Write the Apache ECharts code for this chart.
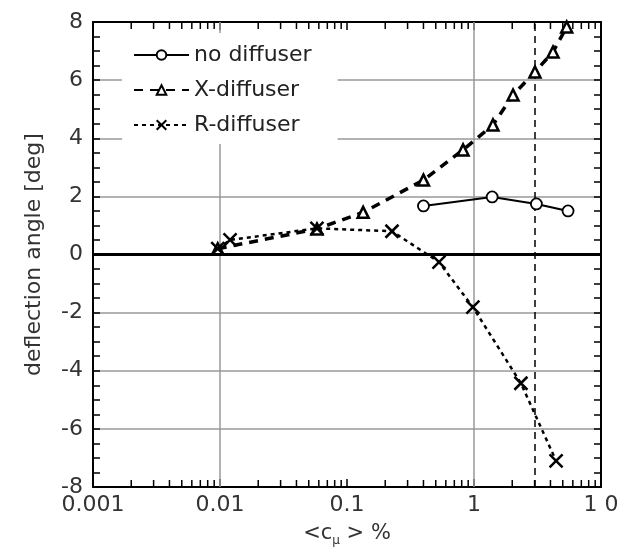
<!DOCTYPE html>
<html>
<head>
<meta charset="utf-8">
<script src="https://cdn.jsdelivr.net/npm/echarts@6/dist/echarts.min.js"></script>
<style>
html,body{margin:0;padding:0;background:#fff;}
#chart{width:621px;height:556px;}
</style>
</head>
<body>
<div id="chart"></div>
<script>
// values (x = <c_mu> %, y = deflection angle in deg)
var noDiffX = [0.40, 1.39, 3.1, 5.5];
var noDiffY = [1.67, 1.98, 1.74, 1.5];
var xDiffX = [0.0096, 0.058, 0.134, 0.40, 0.82, 1.41, 2.03, 3.02, 4.19, 5.37];
var xDiffY = [0.2, 0.88, 1.45, 2.56, 3.6, 4.46, 5.49, 6.28, 6.97, 7.83];
var rDiffX = [0.0096, 0.012, 0.058, 0.226, 0.53, 0.98, 2.34, 4.43];
var rDiffY = [0.2, 0.5, 0.9, 0.8, -0.26, -1.81, -4.43, -7.1];
var yTicks = [-8, -6, -4, -2, 0, 2, 4, 6, 8];
var xTickLabels = ['0.001', '0.01', '0.1', '1', '1 0'];
var xGridAt = [0.01, 1];
var minorLogTicks = [];
[0.001, 0.01, 0.1, 1].forEach(function (d) {
	for (var k = 2; k <= 9; k++) minorLogTicks.push(+(d * k).toPrecision(3));
});

function pairs(xs, ys) {
	var out = [];
	for (var i = 0; i < xs.length; i++) out.push([xs[i], ys[i]]);
	return out;
}

var font = 'DejaVu Sans, sans-serif';
var crossPath = 'path://M0,0L10,10M10,0L0,10';
var frameLine = { show: true, onZero: false, lineStyle: { color: '#000', width: 2 } };

var chart = echarts.init(document.getElementById('chart'));
chart.setOption({
	animation: false,
	backgroundColor: '#fff',
	grid: { left: 93, right: 20, top: 22, bottom: 69, containLabel: false, outerBoundsMode: 'none' },
	legend: {
		left: 122, top: 33,
		orient: 'vertical',
		backgroundColor: '#fff',
		padding: [11, 26, 8, 11],
		itemWidth: 55, itemHeight: 12, itemGap: 13,
		textStyle: { fontFamily: font, fontSize: 22, color: '#222' },
		z: 10,
		data: ['no diffuser', 'X-diffuser', 'R-diffuser']
	},
	xAxis: [{
		type: 'log', logBase: 10, min: 0.001, max: 10,
		position: 'bottom',
		name: '<c{sub|μ} > %', nameLocation: 'middle', nameGap: 34,
		nameTextStyle: {
			fontFamily: font, fontSize: 21, color: '#333',
			rich: { sub: { fontFamily: font, fontSize: 12, color: '#333', verticalAlign: 'bottom', padding: [14, 0, 0, 0] } }
		},
		axisLine: frameLine,
		axisTick: { show: true, inside: true, length: 8, lineStyle: { color: '#000', width: 1.5 } },
		axisLabel: {
			fontFamily: font, fontSize: 22, color: '#333', margin: 7,
			formatter: function (v, i) { return xTickLabels[i]; }
		},
		splitLine: { show: false }
	}, {
		type: 'log', logBase: 10, min: 0.001, max: 10,
		position: 'top',
		axisLine: frameLine,
		axisTick: { show: true, inside: true, length: 8, lineStyle: { color: '#000', width: 1.5 } },
		axisLabel: { show: false },
		splitLine: { show: false }
	}],
	yAxis: [{
		type: 'value', min: -8, max: 8, interval: 2,
		name: 'deflection angle [deg]', nameLocation: 'middle', nameGap: 48,
		nameTextStyle: { fontFamily: font, fontSize: 22, color: '#333' },
		axisLine: frameLine,
		axisTick: { show: true, inside: true, length: 7, lineStyle: { color: '#000', width: 1.5 } },
		minorTick: { show: true, splitNumber: 4, length: 7, lineStyle: { color: '#000', width: 1.5 } },
		axisLabel: {
			fontFamily: font, fontSize: 22, color: '#333', margin: 10,
			formatter: function (v) { return yTicks.indexOf(v) >= 0 ? String(v) : ''; }
		},
		splitLine: { show: true, lineStyle: { color: '#999', width: 1.5 } }
	}, {
		type: 'value', min: -8, max: 8, interval: 2,
		position: 'right',
		axisLine: frameLine,
		axisTick: { show: true, inside: true, length: 7, lineStyle: { color: '#000', width: 1.5 } },
		minorTick: { show: true, splitNumber: 4, length: 7, lineStyle: { color: '#000', width: 1.5 } },
		axisLabel: { show: false },
		splitLine: { show: false }
	}],
	series: [{
		// minor log ticks on bottom and top edges, plus the two vertical grid lines
		type: 'custom',
		silent: true,
		data: minorLogTicks.map(function (v) { return [v, -8]; }),
		renderItem: function (params, api) {
			var b = api.coord([api.value(0), -8]);
			var t = api.coord([api.value(0), 8]);
			var st = { stroke: '#000', lineWidth: 1.5 };
			return {
				type: 'group',
				children: [
					{ type: 'line', shape: { x1: b[0], y1: b[1], x2: b[0], y2: b[1] - 7 }, style: st },
					{ type: 'line', shape: { x1: t[0], y1: t[1], x2: t[0], y2: t[1] + 7 }, style: st }
				]
			};
		},
		markLine: {
			silent: true, symbol: 'none', label: { show: false },
			lineStyle: { color: '#999', width: 1.5, type: 'solid' },
			data: xGridAt.map(function (v) { return { xAxis: v }; })
		},
		z: 1
	}, {
		name: 'no diffuser',
		type: 'line',
		data: pairs(noDiffX, noDiffY),
		symbol: 'circle', symbolSize: 11,
		lineStyle: { color: '#000', width: 2 },
		itemStyle: { color: '#fff', borderColor: '#000', borderWidth: 1.8 },
		markLine: {
			silent: true, symbol: 'none', label: { show: false },
			data: [
				{ yAxis: 0, lineStyle: { color: '#000', width: 3, type: 'solid' } },
				{ xAxis: 3, lineStyle: { color: '#000', width: 1.5, type: [7, 5] } }
			]
		},
		z: 5
	}, {
		name: 'X-diffuser',
		type: 'line',
		data: pairs(xDiffX, xDiffY),
		symbol: 'triangle', symbolSize: 11,
		lineStyle: { color: '#000', width: 3.5, type: [9, 7] },
		itemStyle: { color: '#fff', borderColor: '#000', borderWidth: 2.5 },
		z: 5
	}, {
		name: 'R-diffuser',
		type: 'line',
		data: pairs(rDiffX, rDiffY),
		symbol: crossPath, symbolSize: 13,
		lineStyle: { color: '#000', width: 2.5, type: [4, 4] },
		itemStyle: { color: 'none', borderColor: '#000', borderWidth: 2.5 },
		z: 5
	}]
});
</script>
</body>
</html>
